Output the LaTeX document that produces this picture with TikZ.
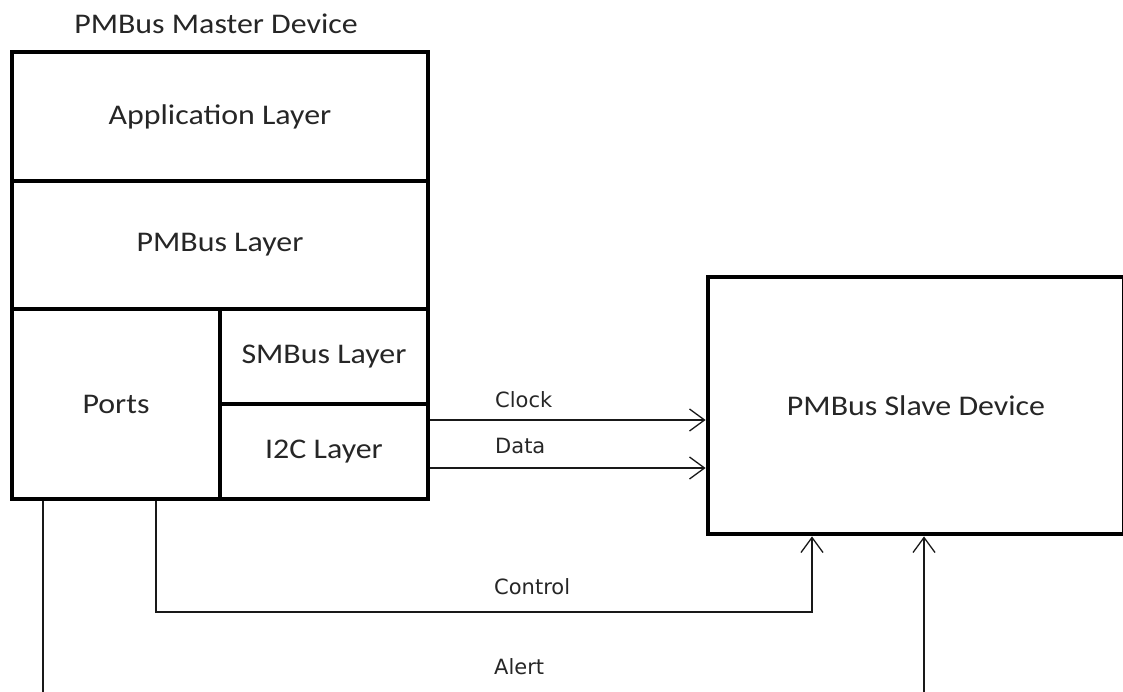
\documentclass[tikz,border=0pt]{standalone}
\usepackage{fontspec}
\setmainfont{Carlito}[FakeStretch=1.12]
\newfontfamily\lblfont{DejaVu Sans}
\usetikzlibrary{arrows.meta}
\tikzset{
  blk/.style={draw=black, line width=4.8pt, rectangle, inner sep=0pt, text=black!85,
    font=\fontsize{28.5}{32}\selectfont},
  conn/.style={draw=black!90, line width=1.3pt},
  tip/.style={-{Straight Barb[length=15pt,width=22pt,line width=1.3pt]}},
  lbl/.style={inner sep=0pt, text=black!85, font=\lblfont\fontsize{21}{24}\selectfont},
}
\begin{document}
\begin{tikzpicture}[x=1pt,y=-1pt]
\useasboundingbox (0,0) rectangle (1123,691);
% title
\node[lbl, font=\fontsize{28.5}{32}\selectfont, anchor=base] (title) at (216,33) {PMBus Master Device};
% master blocks
\node[blk, minimum width=416pt, minimum height=129pt] (app) at (220,116.5) {\raisebox{-2pt}{Application Layer}};
\node[blk, minimum width=416pt, minimum height=128pt] (pmb) at (220,245) {\raisebox{-2pt}{PMBus Layer}};
\node[blk, minimum width=208pt, minimum height=190pt] (ports) at (116,404) {\raisebox{-2pt}{Ports}};
\node[blk, minimum width=208pt, minimum height=95pt] (smb) at (324,356.5) {\raisebox{-2pt}{SMBus Layer}};
\node[blk, minimum width=208pt, minimum height=95pt] (i2c) at (324,451.5) {\raisebox{-2pt}{I2C Layer}};
% slave
\node[blk, minimum width=416pt, minimum height=257pt] (slave) at (916,405.5) {\raisebox{-2pt}{PMBus Slave Device}};
% helper coordinates
\coordinate (clk) at (0,420);
\coordinate (dat) at (0,468);
\coordinate (ctlL) at (156,612);
\coordinate (ctlR) at (812,612);
\coordinate (alL) at (43,710);
\coordinate (alR) at (924,710);
% connectors
\draw[conn, tip] (clk -| i2c.east) -- (clk -| slave.west);
\draw[conn, tip] (dat -| i2c.east) -- (dat -| slave.west);
\draw[conn, tip] (ctlL |- ports.south) -- (ctlL) -- (ctlR) -- (ctlR |- slave.south);
\draw[conn, tip] (alL |- ports.south) -- (alL) -- (alR) -- (alR |- slave.south);
% labels
\node[lbl, anchor=base west] (lclk) at (495,407) {Clock};
\node[lbl, anchor=base west] (ldat) at (495,453) {Data};
\node[lbl, anchor=base west] (lctl) at (494,594) {Control};
\node[lbl, anchor=base west] (lalt) at (494,674) {Alert};
\end{tikzpicture}
\end{document}
